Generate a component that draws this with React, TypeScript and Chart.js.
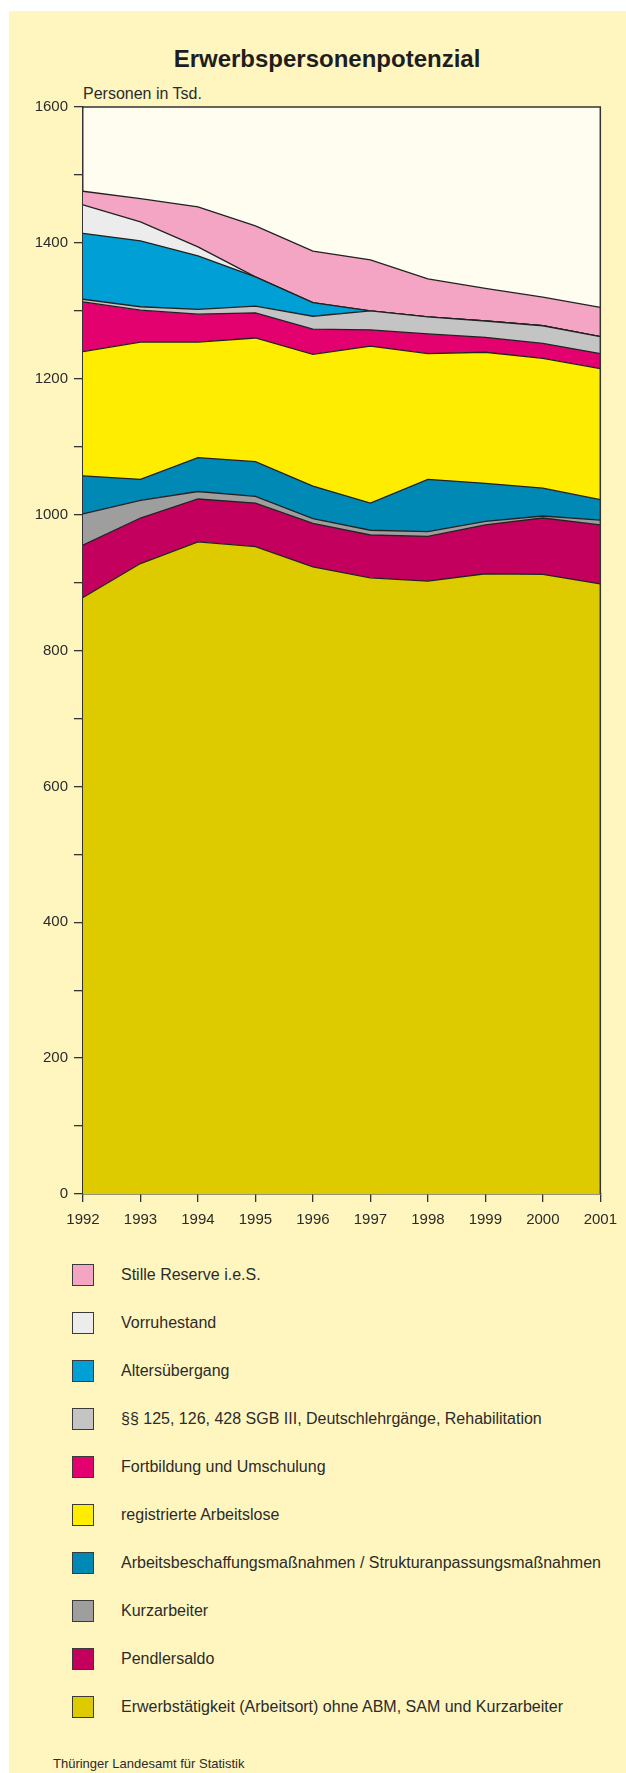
import React, { useEffect, useRef } from "react";
import { Chart, registerables } from "chart.js";

Chart.register(...registerables);

const years = ["1992", "1993", "1994", "1995", "1996", "1997", "1998", "1999", "2000", "2001"];

// Persons in thousands, stacked bottom to top
const erwerbstaetigkeit = [878, 928, 960, 953, 923, 907, 902, 913, 912, 898];
const pendlersaldo = [77, 67, 63, 64, 64, 63, 66, 72, 83, 87];
const kurzarbeiter = [46, 26, 11, 10, 7, 7, 7, 5, 3, 7];
const abmSam = [56, 31, 50, 51, 48, 40, 77, 56, 41, 30];
const arbeitslose = [183, 202, 170, 182, 194, 231, 185, 193, 191, 193];
const fortbildung = [73, 47, 41, 37, 37, 24, 29, 22, 22, 22];
const paragraphen = [4, 5, 7, 10, 19, 28, 25, 24, 26, 25];
const altersuebergang = [97, 97, 79, 43, 20, 0, 0, 0, 0, 0];
const vorruhestand = [42, 28, 13, 0, 0, 0, 0, 0, 0, 0];
const stilleReserve = [20, 34, 59, 75, 76, 75, 56, 48, 42, 43];

const yTicksMax = 1600;

const seriesLabels = [
  "Erwerbstätigkeit (Arbeitsort) ohne ABM, SAM und Kurzarbeiter",
  "Pendlersaldo",
  "Kurzarbeiter",
  "Arbeitsbeschaffungsmaßnahmen / Strukturanpassungsmaßnahmen",
  "registrierte Arbeitslose",
  "Fortbildung und Umschulung",
  "§§ 125, 126, 428 SGB III, Deutschlehrgänge, Rehabilitation",
  "Altersübergang",
  "Vorruhestand",
  "Stille Reserve i.e.S.",
];
const seriesData = [
  erwerbstaetigkeit,
  pendlersaldo,
  kurzarbeiter,
  abmSam,
  arbeitslose,
  fortbildung,
  paragraphen,
  altersuebergang,
  vorruhestand,
  stilleReserve,
];
const seriesColors = [
  "#DDCB00",
  "#C4005E",
  "#9E9E9E",
  "#0089B5",
  "#FFED00",
  "#E3006F",
  "#C4C4C4",
  "#009FD5",
  "#ECECEC",
  "#F4A5C4",
];

const FONT = "'Liberation Sans', Arial, Helvetica, sans-serif";
const TEXT = "#2b2b2b";
const BG = "#FFF6BF";
const PLOT_BG = "#FFFDEF";

const CW = 617;
const CH = 1240;

const plotBgPlugin = {
  id: "plotBg",
  beforeDraw(chart: any) {
    const { ctx, chartArea } = chart;
    ctx.save();
    ctx.fillStyle = PLOT_BG;
    ctx.fillRect(chartArea.left, chartArea.top, chartArea.right - chartArea.left, chartArea.bottom - chartArea.top);
    ctx.restore();
  },
  afterDraw(chart: any) {
    const { ctx, chartArea } = chart;
    ctx.save();
    ctx.strokeStyle = "#333";
    ctx.lineWidth = 1.5;
    ctx.beginPath();
    ctx.moveTo(chartArea.left, chartArea.top);
    ctx.lineTo(chartArea.right, chartArea.top);
    ctx.lineTo(chartArea.right, chartArea.bottom);
    ctx.stroke();
    ctx.restore();
  },
};

export default function App() {
  const ref = useRef<HTMLCanvasElement | null>(null);

  useEffect(() => {
    if (!ref.current) return;
    const datasets = seriesData.map((d, i) => ({
      label: seriesLabels[i],
      data: d,
      backgroundColor: seriesColors[i],
      borderColor: "#222",
      borderWidth: 1.3,
      pointRadius: 0,
      tension: 0,
      fill: i === 0 ? "origin" : "-1",
    }));
    const chart = new Chart(ref.current, {
      type: "line",
      data: { labels: years, datasets },
      options: {
        responsive: false,
        animation: false,
        devicePixelRatio: 1,
        layout: { padding: { left: 0, top: 96, right: 21, bottom: 0 } },
        plugins: { legend: { display: false }, tooltip: { enabled: false }, title: { display: false } },
        scales: {
          x: {
            offset: false,
            afterFit: (s: any) => {
              s.height = CH - 1183;
            },
            grid: { drawOnChartArea: false, drawTicks: true, tickLength: 8, color: "#333", lineWidth: 1.3 },
            border: { display: true, color: "#333", width: 1.5 },
            ticks: {
              autoSkip: false,
              maxRotation: 0,
              minRotation: 0,
              padding: 9,
              color: TEXT,
              font: { family: FONT, size: 15 },
            },
          },
          y: {
            stacked: true,
            min: 0,
            max: yTicksMax,
            afterFit: (s: any) => {
              s.width = 74;
            },
            grid: { drawOnChartArea: false, drawTicks: true, tickLength: 9, color: "#333", lineWidth: 1.3 },
            border: { display: true, color: "#333", width: 1.5 },
            ticks: {
              stepSize: 100,
              padding: 6,
              color: TEXT,
              font: { family: FONT, size: 15 },
              callback: (v: any) => (Number(v) % 200 === 0 ? String(v) : ""),
            },
          },
        },
      },
      plugins: [plotBgPlugin],
    });
    return () => chart.destroy();
  }, []);

  const legendOrder = [9, 8, 7, 6, 5, 4, 3, 2, 1, 0];

  return (
    <div
      style={{
        position: "absolute",
        left: 9,
        top: 11,
        width: 617,
        height: 1762,
        background: BG,
        fontFamily: FONT,
        color: TEXT,
        overflow: "hidden",
      }}
    >
      <div
        style={{
          position: "absolute",
          left: 118,
          top: 36,
          width: 400,
          textAlign: "center",
          fontSize: 24,
          lineHeight: "24px",
          fontWeight: "bold",
          color: "#1e1e1e",
        }}
      >
        Erwerbspersonenpotenzial
      </div>
      <div style={{ position: "absolute", left: 74, top: 75, fontSize: 16, lineHeight: "16px" }}>Personen in Tsd.</div>
      <canvas
        ref={ref}
        width={CW}
        height={CH}
        style={{ position: "absolute", left: 0, top: 0, width: CW, height: CH }}
      />
      {legendOrder.map((idx, i) => (
        <div key={idx} style={{ position: "absolute", left: 63, top: 1253 + i * 48, height: 22, display: "flex" }}>
          <div
            style={{
              width: 22,
              height: 22,
              boxSizing: "border-box",
              border: "1.5px solid #3a3a3a",
              background: seriesColors[idx],
            }}
          />
          <div style={{ marginLeft: 27, fontSize: 16, lineHeight: "22px", whiteSpace: "nowrap" }}>{seriesLabels[idx]}</div>
        </div>
      ))}
      <div style={{ position: "absolute", left: 44, top: 1746, fontSize: 13, lineHeight: "13px" }}>
        Thüringer Landesamt für Statistik
      </div>
    </div>
  );
}
